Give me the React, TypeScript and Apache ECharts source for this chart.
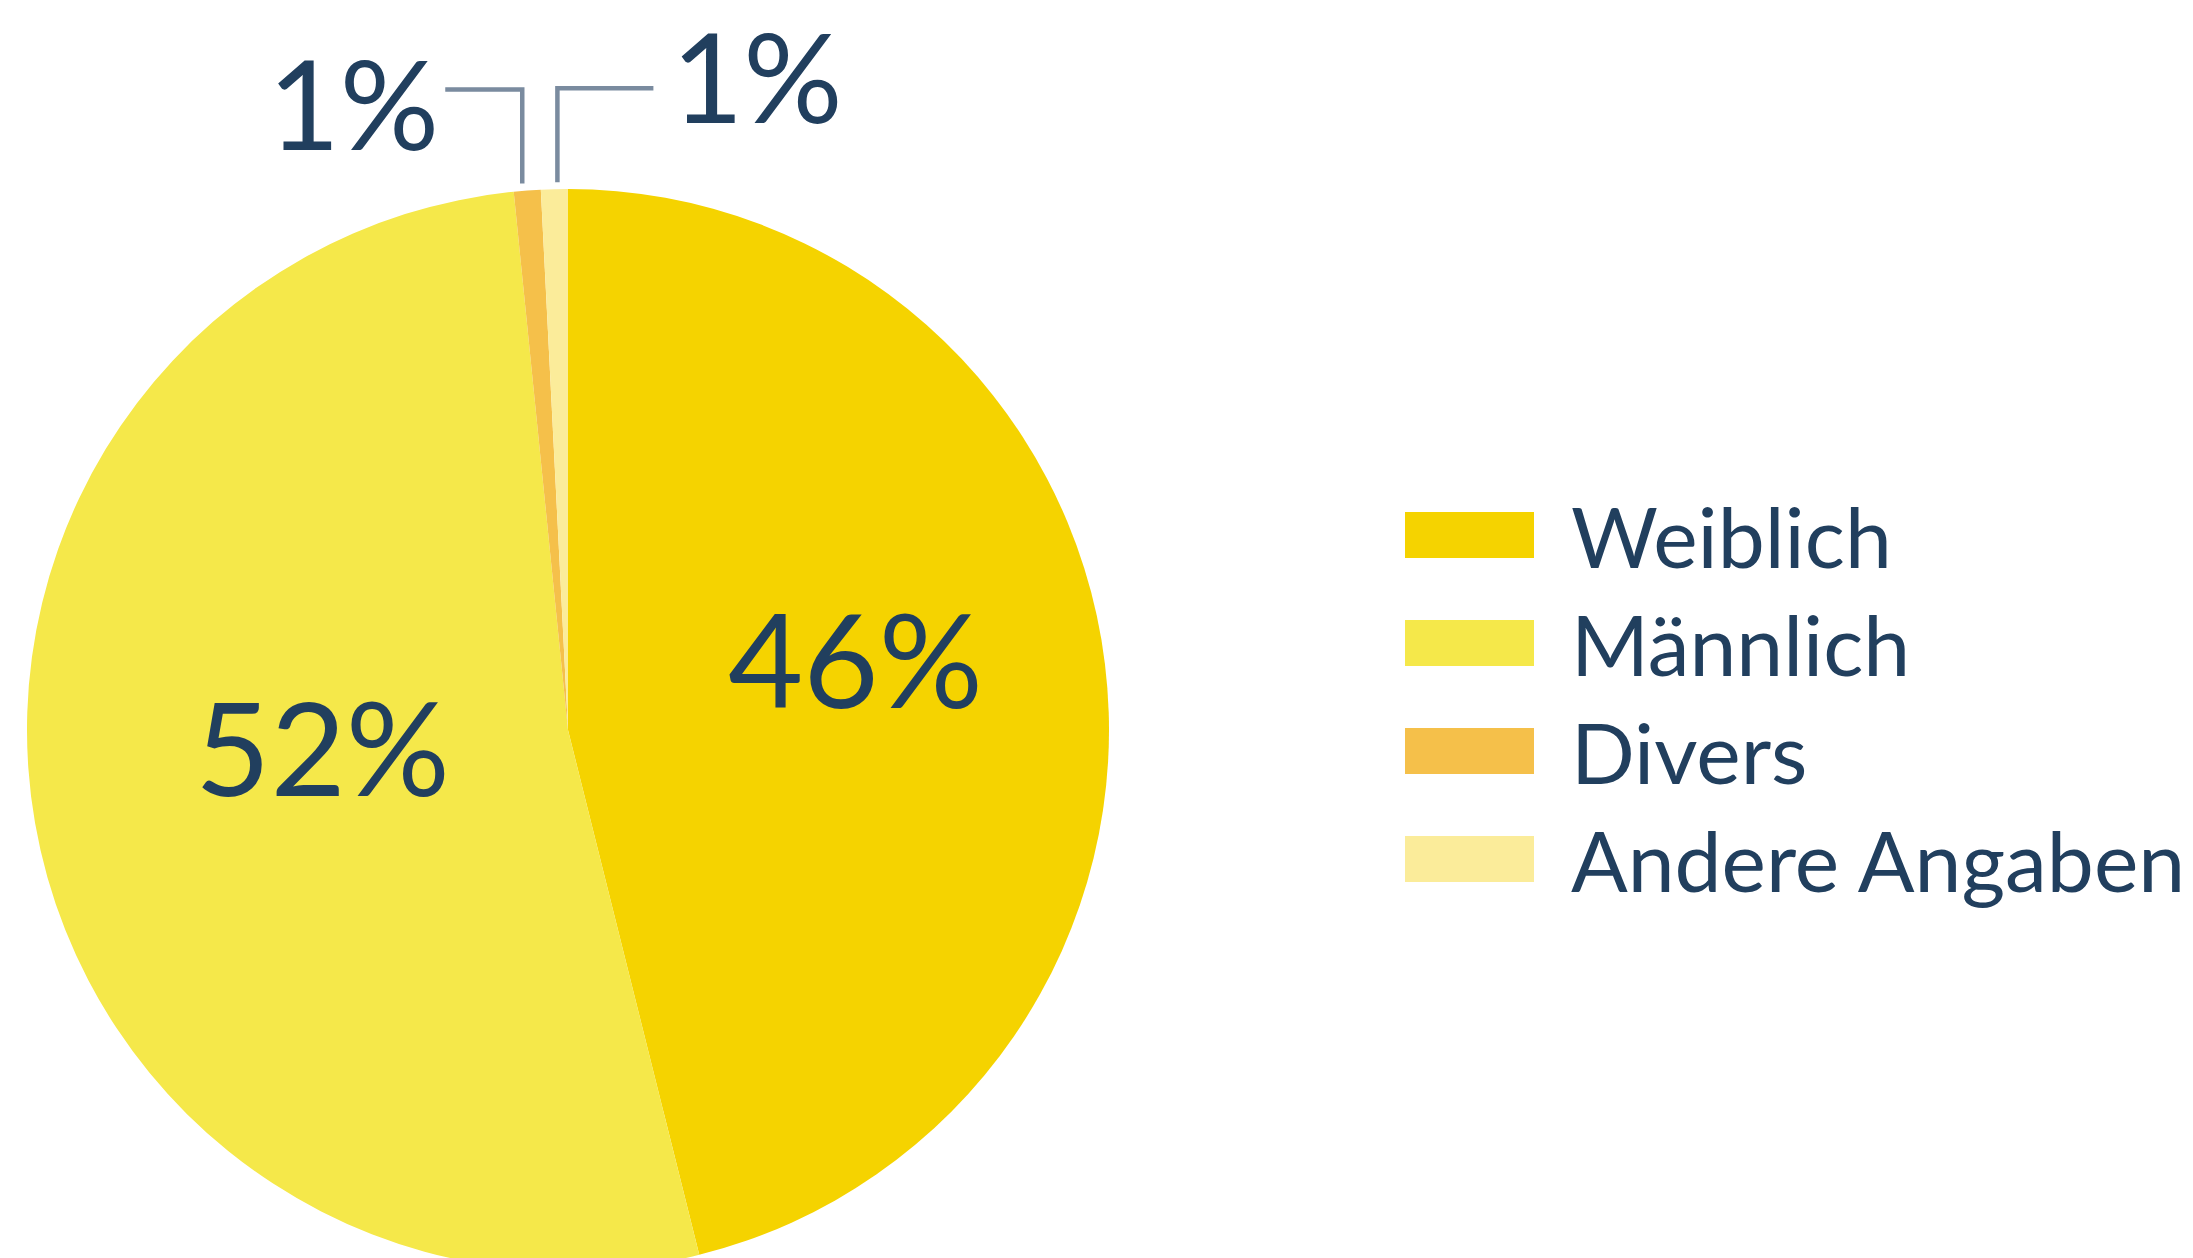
import React, { useEffect, useRef } from 'react';
import * as echarts from 'echarts';

const categories = ['Weiblich', 'Männlich', 'Divers', 'Andere Angaben'];
const shares = [46.1, 52.3, 0.8, 0.8];
const colors = ['#F5D300', '#F5E84A', '#F5C04A', '#FBEC9A'];

const TEXT = '#213F5E';
const LINE = '#7A8B9F';

export default function App() {
  const ref = useRef<HTMLDivElement>(null);
  useEffect(() => {
    const chart = echarts.init(ref.current!, null, { renderer: 'svg' });
    const data = categories.map((name, i) => {
      const outside = i >= 2;
      return {
        name,
        value: shares[i],
        itemStyle: { color: colors[i] },
        label: outside
          ? { position: 'outside', fontSize: 124 }
          : { position: 'inside' },
        labelLine: {
          show: outside,
          length: 90,
          length2: 80,
          lineStyle: { color: LINE, width: 4.5 },
        },
      };
    });
    chart.setOption({
      animation: false,
      backgroundColor: '#ffffff',
      legend: {
        orient: 'vertical',
        left: 1400,
        top: 488,
        icon: 'rect',
        itemWidth: 129,
        itemHeight: 46,
        itemGap: 24,
        selectedMode: false,
        data: categories,
        textStyle: {
          fontFamily: 'Lato',
          fontSize: 84,
          color: TEXT,
          padding: [0, 0, 36, 32],
        },
      },
      series: [
        {
          type: 'pie',
          center: [568, 730],
          radius: 541,
          startAngle: 90,
          clockwise: true,
          avoidLabelOverlap: false,
          emphasis: { disabled: true },
          data,
          label: {
            show: true,
            formatter: (p: any) => Math.round(p.value) + '%',
            fontFamily: 'Lato',
            fontSize: 130,
            color: TEXT,
          },
          labelLayout: (p: any) => {
            const i = p.dataIndex;
            if (i === 0) return { dx: 16, dy: -39 };
            if (i === 1) return { dx: 24, dy: -31 };
            const pts = p.labelLinePoints;
            if (!pts || !pts.length) return {};
            const y0 = pts[0][1];
            if (i === 2) {
              const x0 = pts[0][0] - 5;
              return {
                x: x0 - 83,
                y: y0 - 89,
                align: 'right',
                verticalAlign: 'middle',
                labelLinePoints: [
                  [x0, y0 - 7],
                  [x0, y0 - 101],
                  [x0 - 77, y0 - 101],
                ],
              };
            }
            const x0 = pts[0][0] + 3;
            return {
              x: x0 + 114,
              y: y0 - 114,
              align: 'left',
              verticalAlign: 'middle',
              labelLinePoints: [
                [x0, y0 - 7],
                [x0, y0 - 101],
                [x0 + 96, y0 - 101],
              ],
            };
          },
        },
      ],
    });
    return () => chart.dispose();
  }, []);
  return (
    <div
      ref={ref}
      style={{ position: 'fixed', left: 0, top: 0, width: 2193, height: 1258 }}
    />
  );
}
